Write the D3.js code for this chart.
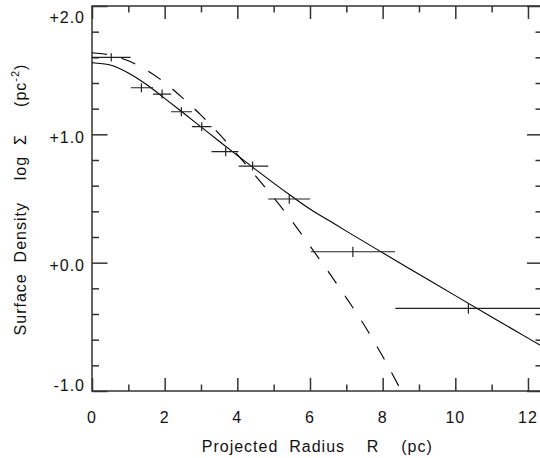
<!DOCTYPE html>
<html>
<head>
<meta charset="utf-8">
<script src="https://cdn.jsdelivr.net/npm/d3@7"></script>
<style>
  html, body { margin: 0; padding: 0; background: #fff; }
  svg { display: block; }
  text { font-family: "Liberation Sans", Arial, Helvetica, sans-serif; fill: #111; letter-spacing: 1px; white-space: pre; }
</style>
</head>
<body>
<svg id="chart" width="540" height="458"></svg>
<script>
// Binned surface-density measurements: centre radius, bin edges, log Σ and its error
const pointR        = [0.53, 1.36, 1.93, 2.46, 3.02, 3.68, 4.42, 5.43, 7.18, 10.36];
const binLo         = [0.00, 1.07, 1.68, 2.18, 2.75, 3.29, 4.04, 4.85, 6.02, 8.35];
const binHi         = [1.06, 1.68, 2.18, 2.75, 3.29, 4.03, 4.85, 6.00, 8.34, 12.60];
const pointLogSigma = [1.600, 1.363, 1.314, 1.176, 1.060, 0.865, 0.753, 0.496, 0.085, -0.356];
const logSigmaErr   = [0.032, 0.035, 0.035, 0.035, 0.035, 0.035, 0.035, 0.037, 0.040, 0.042];

// Model profile (solid)
const modelR    = [0, 0.5, 1.0, 1.5, 2.0, 2.5, 3.0, 3.5, 4.0, 4.5, 5.0, 5.5, 6.0, 6.5, 7.0, 8.0, 9.0, 10.0, 11.0, 12.0, 12.6];
const modelLogS = [1.558, 1.540, 1.478, 1.388, 1.280, 1.170, 1.058, 0.946, 0.836, 0.727, 0.620, 0.517, 0.418, 0.332, 0.246, 0.077, -0.090, -0.257, -0.423, -0.588, -0.687];

// Comparison profile (dashed)
const compR    = [0, 0.5, 1.0, 1.5, 2.0, 2.5, 3.0, 3.5, 4.0, 4.5, 5.0, 5.5, 6.0, 6.5, 7.0, 7.5, 8.0, 8.5, 8.7];
const compLogS = [1.636, 1.618, 1.573, 1.500, 1.403, 1.282, 1.150, 1.003, 0.842, 0.676, 0.507, 0.325, 0.130, -0.068, -0.274, -0.490, -0.730, -0.992, -1.100];

// Axis ticks
const xMajor = [0, 2, 4, 6, 8, 10, 12];
const xMinor = [1, 3, 5, 7, 9, 11];
const yMajor = [-1, 0, 1, 2];
const yMinor = [-0.8, -0.6, -0.4, -0.2, 0.2, 0.4, 0.6, 0.8, 1.2, 1.4, 1.6, 1.8];
const yTickLabels = ["-1.0", "+0.0", "+1.0", "+2.0"];

const svg = d3.select("#chart");
const plotLeft = 92, plotRight = 542.5, plotTop = 6, plotBottom = 391;

const x = d3.scaleLinear().domain([0, 12.4]).range([plotLeft, plotRight]);
const y = d3.scaleLinear().domain([-1, 2]).range([plotBottom, plotTop]);

svg.append("defs").append("clipPath").attr("id", "plotArea")
  .append("rect").attr("x", plotLeft).attr("y", plotTop)
  .attr("width", plotRight - plotLeft).attr("height", plotBottom - plotTop);

const axisColor = "#333";
svg.append("rect")
  .attr("x", plotLeft).attr("y", plotTop)
  .attr("width", plotRight - plotLeft).attr("height", plotBottom - plotTop)
  .attr("fill", "none").attr("stroke", axisColor).attr("stroke-width", 1.5);

// Axes with inward ticks on all four sides
function styleAxis(g) {
  g.select(".domain").remove();
  g.selectAll(".tick line").attr("stroke", axisColor).attr("stroke-width", 1.5);
}
function addAxis(axis, tx, ty) {
  svg.append("g").attr("transform", `translate(${tx},${ty})`).call(axis).call(styleAxis);
}
addAxis(d3.axisBottom(x).tickValues(xMajor).tickSize(-13).tickFormat(""), 0, plotBottom);
addAxis(d3.axisBottom(x).tickValues(xMinor).tickSize(-6.5).tickFormat(""), 0, plotBottom);
addAxis(d3.axisTop(x).tickValues(xMajor).tickSize(-13).tickFormat(""), 0, plotTop);
addAxis(d3.axisTop(x).tickValues(xMinor).tickSize(-6.5).tickFormat(""), 0, plotTop);
addAxis(d3.axisLeft(y).tickValues(yMajor).tickSize(-15.5).tickFormat(""), plotLeft, 0);
addAxis(d3.axisLeft(y).tickValues(yMinor).tickSize(-7).tickFormat(""), plotLeft, 0);
addAxis(d3.axisRight(y).tickValues(yMajor).tickSize(-15.5).tickFormat(""), plotRight, 0);
addAxis(d3.axisRight(y).tickValues(yMinor).tickSize(-7).tickFormat(""), plotRight, 0);

// Tick labels
svg.append("g").selectAll("text").data(xMajor).join("text")
  .attr("x", d => x(d)).attr("y", plotBottom + 32)
  .attr("text-anchor", "middle").attr("font-size", 16)
  .text(d => String(d));
svg.append("g").selectAll("text").data(yMajor).join("text")
  .attr("x", 85).attr("y", d => Math.min(Math.max(y(d) + 8.5, plotTop + 17), plotBottom))
  .attr("text-anchor", "end").attr("font-size", 16)
  .text((d, i) => yTickLabels[i]);

// Axis titles
svg.append("text")
  .attr("x", (plotLeft + plotRight) / 2).attr("y", plotBottom + 61)
  .attr("text-anchor", "middle").attr("font-size", 16)
  .text("Projected  Radius    R    (pc)");
const yTitle = svg.append("text")
  .attr("transform", `translate(26,${(plotTop + plotBottom) / 2 + 1}) rotate(-90)`)
  .attr("text-anchor", "middle").attr("font-size", 16);
yTitle.append("tspan").text("Surface  Density    log  \u03A3     (pc");
yTitle.append("tspan").attr("font-size", 11).attr("dy", -7).text("-2");
yTitle.append("tspan").attr("dy", 7).text(")");

// Curves
const plot = svg.append("g").attr("clip-path", "url(#plotArea)");
const line = d3.line().x(d => x(d[0])).y(d => y(d[1])).curve(d3.curveMonotoneX);

plot.append("path")
  .datum(modelR.map((r, i) => [r, modelLogS[i]]))
  .attr("d", line).attr("fill", "none").attr("stroke", "#000").attr("stroke-width", 1.1);

plot.append("path")
  .datum(compR.map((r, i) => [r, compLogS[i]]))
  .attr("d", line).attr("fill", "none").attr("stroke", "#000").attr("stroke-width", 1.1)
  .attr("stroke-dasharray", "15,15");

// Data points: horizontal bin width and vertical error
const pts = plot.append("g").attr("stroke", "#222").attr("stroke-width", 1.2);
pointR.forEach((r, i) => {
  pts.append("line")
    .attr("x1", x(binLo[i])).attr("x2", x(binHi[i]))
    .attr("y1", y(pointLogSigma[i])).attr("y2", y(pointLogSigma[i]));
  pts.append("line")
    .attr("x1", x(r)).attr("x2", x(r))
    .attr("y1", y(pointLogSigma[i] - logSigmaErr[i])).attr("y2", y(pointLogSigma[i] + logSigmaErr[i]));
});
</script>
</body>
</html>
